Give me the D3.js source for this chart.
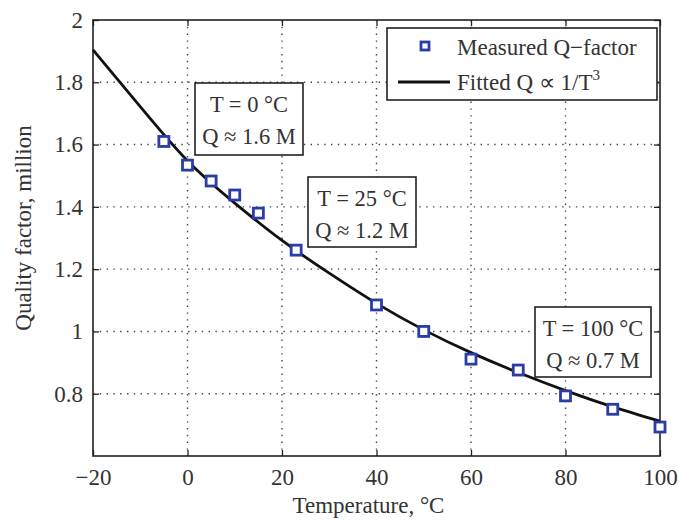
<!DOCTYPE html>
<html>
<head>
<meta charset="utf-8">
<script src="https://cdn.jsdelivr.net/npm/d3@7"></script>
<style>
  html, body { margin: 0; padding: 0; background: #fff; }
  svg { display: block; }
  text { font-family: "Liberation Serif", "Times New Roman", serif; fill: #333; }
</style>
</head>
<body>
<svg id="chart" width="679" height="523"></svg>
<script>
// measured points
const tempPts = [-5, 0, 5, 10, 15, 23, 40, 50, 60, 70, 80, 90, 100]
const qPts = [1.61, 1.534, 1.483, 1.438, 1.38, 1.261, 1.085, 1.0, 0.911, 0.876, 0.793, 0.75, 0.693]

// fitted curve
const fitT = [-20, -10, 0, 10, 20, 30, 40, 50, 60, 70, 80, 90, 100]
const fitQ = [1.904, 1.722, 1.548, 1.412, 1.292, 1.187, 1.09, 1.005, 0.932, 0.868, 0.81, 0.758, 0.712]

const xTicks = [-20, 0, 20, 40, 60, 80, 100]
const yTicks = [0.8, 1, 1.2, 1.4, 1.6, 1.8, 2]

const noteLines = [
  ['T = 0 °C', 'Q ≈ 1.6 M'],
  ['T = 25 °C', 'Q ≈ 1.2 M'],
  ['T = 100 °C', 'Q ≈ 0.7 M']
]

const margin = { left: 93, right: 19, top: 20, bottom: 67 }
const width = 679 - margin.left - margin.right
const height = 523 - margin.top - margin.bottom

const x = d3.scaleLinear().domain([-20, 100]).range([0, width])
const y = d3.scaleLinear().domain([0.6, 2]).range([height, 0])

const svg = d3.select('#chart')
const g = svg.append('g').attr('transform', `translate(${margin.left},${margin.top})`)

// dotted grid
g.append('g')
  .selectAll('line')
  .data(xTicks.filter(d => d > -20 && d < 100))
  .enter()
  .append('line')
  .attr('x1', d => x(d)).attr('x2', d => x(d))
  .attr('y1', 0).attr('y2', height)
  .attr('stroke', '#444')
  .attr('stroke-width', 1.4)
  .attr('stroke-dasharray', '1.4,5.4')

g.append('g')
  .selectAll('line')
  .data(yTicks.filter(d => d < 2))
  .enter()
  .append('line')
  .attr('y1', d => y(d)).attr('y2', d => y(d))
  .attr('x1', 0).attr('x2', width)
  .attr('stroke', '#444')
  .attr('stroke-width', 1.4)
  .attr('stroke-dasharray', '1.4,5.4')

// axes, ticks inside
function styleAxis(sel) {
  sel.select('.domain').remove()
  sel.selectAll('.tick line').attr('stroke', '#222').attr('stroke-width', 1.3)
  sel.selectAll('.tick text')
    .style('font-size', '23px')
    .attr('fill', '#3a3a3a')
}

g.append('g')
  .attr('transform', `translate(0,${height})`)
  .call(d3.axisBottom(x).tickValues(xTicks).tickSize(-6).tickPadding(13).tickFormat(d => d < 0 ? '\u2212' + Math.abs(d) : d))
  .call(styleAxis)
  .selectAll('.tick text').attr('dy', '0.71em')

g.append('g')
  .call(d3.axisTop(x).tickValues(xTicks).tickSize(-6).tickFormat(''))
  .call(styleAxis)

g.append('g')
  .call(d3.axisLeft(y).tickValues(yTicks).tickSize(-6).tickPadding(10).tickFormat(d3.format('~g')))
  .call(styleAxis)

g.append('g')
  .attr('transform', `translate(${width},0)`)
  .call(d3.axisRight(y).tickValues(yTicks).tickSize(-6).tickFormat(''))
  .call(styleAxis)

// frame
g.append('rect')
  .attr('width', width)
  .attr('height', height)
  .attr('fill', 'none')
  .attr('stroke', '#222')
  .attr('stroke-width', 1.6)

// fitted curve
const fitData = fitT.map((t, i) => [t, fitQ[i]])
g.append('path')
  .datum(fitData)
  .attr('fill', 'none')
  .attr('stroke', '#111')
  .attr('stroke-width', 2.8)
  .attr('d', d3.line().x(d => x(d[0])).y(d => y(d[1])).curve(d3.curveNatural))

// measured markers
const ms = 10
g.append('g')
  .selectAll('rect')
  .data(tempPts.map((t, i) => [t, qPts[i]]))
  .enter()
  .append('rect')
  .attr('x', d => x(d[0]) - ms / 2)
  .attr('y', d => y(d[1]) - ms / 2)
  .attr('width', ms)
  .attr('height', ms)
  .attr('fill', '#fff')
  .attr('stroke', '#2a3ca6')
  .attr('stroke-width', 2.8)

// annotation boxes
const notes = [
  { x: 102, y: 63, w: 108, h: 72 },
  { x: 215, y: 157, w: 108, h: 70 },
  { x: 442, y: 287, w: 116, h: 70 }
]
notes.forEach((n, i) => {
  const ng = g.append('g').attr('transform', `translate(${n.x},${n.y})`)
  ng.append('rect')
    .attr('width', n.w).attr('height', n.h)
    .attr('fill', '#fff')
    .attr('stroke', '#222')
    .attr('stroke-width', 1.6)
  noteLines[i].forEach((s, j) => {
    ng.append('text')
      .attr('x', n.w / 2)
      .attr('y', 29 + j * 32)
      .attr('text-anchor', 'middle')
      .style('font-size', '22.5px')
      .text(s)
  })
})

// legend
const lg = g.append('g').attr('transform', `translate(${387 - margin.left},${28 - margin.top})`)
lg.append('rect')
  .attr('width', 270).attr('height', 72)
  .attr('fill', '#fff')
  .attr('stroke', '#222')
  .attr('stroke-width', 1.6)
lg.append('rect')
  .attr('x', 38 - 4).attr('y', 18 - 4)
  .attr('width', 8).attr('height', 8)
  .attr('fill', '#fff')
  .attr('stroke', '#2a3ca6')
  .attr('stroke-width', 2.8)
lg.append('text')
  .attr('x', 70).attr('y', 27)
  .style('font-size', '23px')
  .text('Measured Q\u2212factor')
lg.append('line')
  .attr('x1', 11).attr('x2', 63)
  .attr('y1', 54).attr('y2', 54)
  .attr('stroke', '#111')
  .attr('stroke-width', 2.8)
const ft = lg.append('text')
  .attr('x', 70).attr('y', 62)
  .style('font-size', '23px')
ft.append('tspan').text('Fitted Q \u221d 1/T')
ft.append('tspan').attr('dy', -10).style('font-size', '15px').text('3')

// axis labels
svg.append('text')
  .attr('x', margin.left + width / 2 - 8)
  .attr('y', 513)
  .attr('text-anchor', 'middle')
  .style('font-size', '23px')
  .text('Temperature, °C')

svg.append('text')
  .attr('transform', `translate(31,${margin.top + 208}) rotate(-90)`)
  .attr('text-anchor', 'middle')
  .style('font-size', '23px')
  .text('Quality factor, million')
</script>
</body>
</html>
